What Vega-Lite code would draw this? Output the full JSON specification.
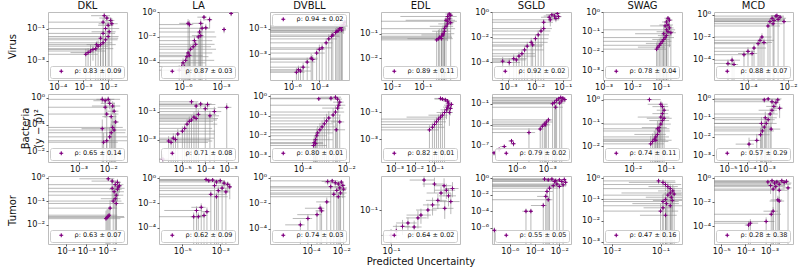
{
"$schema": "https://vega.github.io/schema/vega-lite/v6.json",
"background": "white",
"padding": {"left": 6, "top": 0, "right": 0, "bottom": 0},
"config": {
 "font": "DejaVu Sans",
 "view": {"stroke": "#bdbdbd", "strokeWidth": 1},
 "axis": {"domain": false, "grid": false, "tickSize": 2, "tickColor": "#333333", "tickWidth": 0.8, "labelFont": "DejaVu Sans", "labelFontSize": 8.2, "labelColor": "#111111", "labelPadding": 1.5, "labelFlush": false, "labelOverlap": false, "labelBound": false, "titleFont": "DejaVu Sans", "titleFontSize": 10, "titleFontWeight": "normal", "titleColor": "#111111",
  "labelExpr": "'10' + (round(log(datum.value) / LN10) < 0 ? '⁻' : '') + ['⁰','¹','²','³','⁴','⁵','⁶','⁷','⁸','⁹'][abs(round(log(datum.value) / LN10))]"},
 "title": {"font": "DejaVu Sans", "fontSize": 10, "fontWeight": "normal", "color": "#111111", "offset": 1},
 "rule": {"color": "#8a8a8a", "opacity": 0.6, "strokeWidth": 1},
 "point": {"shape": "M-1,0H1M0,-1V1M-0.3,0A0.3,0.3,0,1,0,0.3,0A0.3,0.3,0,1,0,-0.3,0", "filled": false, "size": 16, "strokeWidth": 1, "opacity": 1},
 "legend": {"labelFont": "DejaVu Sans", "labelFontSize": 6.5, "labelColor": "#111111", "padding": 2, "offset": 2, "strokeColor": "#cccccc", "fillColor": "rgba(255,255,255,0.85)", "cornerRadius": 2, "symbolSize": 16, "symbolStrokeWidth": 1, "symbolOffset": 6, "labelOffset": 10, "symbolType": "M-1,0H1M0,-1V1M-0.3,0A0.3,0.3,0,1,0,0.3,0A0.3,0.3,0,1,0,-0.3,0"}
},
"data": {"values": [
{"p":"DKL_V","x":1.3e-3,"y":2.5e-3,"a":2,"b":1.2},
{"p":"DKL_V","x":1.6e-3,"y":3.2e-3,"a":0.8,"b":0.9},
{"p":"DKL_V","x":2e-3,"y":4e-3,"a":3,"b":1.5},
{"p":"DKL_V","x":2.5e-3,"y":5e-3,"a":1.2,"b":0.8},
{"p":"DKL_V","x":3.2e-3,"y":5.6e-3,"a":4,"b":1.4},
{"p":"DKL_V","x":4e-3,"y":8e-3,"a":1.5,"b":1.2},
{"p":"DKL_V","x":5e-3,"y":1e-2,"a":3,"b":1.5},
{"p":"DKL_V","x":6.3e-3,"y":1.3e-2,"a":1.3,"b":1.6},
{"p":"DKL_V","x":7.9e-3,"y":2e-2,"a":2,"b":1.5},
{"p":"DKL_V","x":5e-3,"y":2.5e-2,"a":4,"b":1.2},
{"p":"DKL_V","x":1e-2,"y":3.2e-2,"a":1.6,"b":1.3},
{"p":"DKL_V","x":6.3e-3,"y":5e-2,"a":2,"b":1.2},
{"p":"DKL_V","x":1.1e-2,"y":6.3e-2,"a":0.8,"b":1.3},
{"p":"DKL_V","x":7.9e-3,"y":0.1,"a":2.5,"b":1.2},
{"p":"DKL_V","x":1e-2,"y":0.16,"a":0.6,"b":0.6},
{"p":"DKL_V","x":6.3e-3,"y":0.25,"a":1.5,"b":0.8},
{"p":"DKL_V","x":1.26e-2,"y":0.32,"a":0.4,"b":0.5},
{"p":"DKL_V","x":8.9e-3,"y":0.45,"a":0.5,"b":0.4},
{"p":"DKL_V","x":7e-3,"y":0.63,"a":0.7,"b":0.5},
{"p":"DKL_V","x":1.4e-2,"y":0.2,"a":0.7,"b":1.2},
{"p":"DKL_V","x":3.5e-3,"y":1e-2,"a":0.6,"b":0.6},
{"p":"LA_V","x":5e-7,"y":2e-5,"a":200,"b":1.5},
{"p":"LA_V","x":7.9e-7,"y":4e-5,"a":250,"b":1.2},
{"p":"LA_V","x":1e-6,"y":7.9e-5,"a":60,"b":1.3},
{"p":"LA_V","x":1.6e-6,"y":1.26e-4,"a":180,"b":1.2},
{"p":"LA_V","x":2e-6,"y":2.5e-4,"a":50,"b":1.2},
{"p":"LA_V","x":2.5e-6,"y":5e-4,"a":80,"b":1.2},
{"p":"LA_V","x":3.2e-6,"y":3.2e-4,"a":10,"b":1.3},
{"p":"LA_V","x":4e-6,"y":1e-3,"a":100,"b":1.2},
{"p":"LA_V","x":6.3e-6,"y":1.6e-3,"a":25,"b":1.3},
{"p":"LA_V","x":1e-5,"y":2.5e-3,"a":30,"b":1.2},
{"p":"LA_V","x":7.9e-6,"y":5e-3,"a":25,"b":1.2},
{"p":"LA_V","x":1.6e-5,"y":1e-2,"a":25,"b":1.2},
{"p":"LA_V","x":2e-5,"y":2.5e-2,"a":15,"b":1.2},
{"p":"LA_V","x":3.2e-5,"y":5e-2,"a":3,"b":1.2},
{"p":"LA_V","x":2.5e-6,"y":0.126,"a":0.8,"b":1.2},
{"p":"LA_V","x":3.2e-6,"y":0.1,"a":1,"b":1.2},
{"p":"LA_V","x":2.5e-5,"y":0.126,"a":0.8,"b":1.2},
{"p":"LA_V","x":4.5e-5,"y":0.4,"a":0.7,"b":0.5},
{"p":"LA_V","x":6.3e-5,"y":5.5e-2,"a":0.6,"b":1.1},
{"p":"LA_V","x":2.5e-5,"y":1.26e-2,"a":0.8,"b":1.2},
{"p":"LA_V","x":1.74e-3,"y":4e-2,"a":0.3,"b":0.5},
{"p":"LA_V","x":6.3e-3,"y":0.8,"a":0.3,"b":0.4},
{"p":"LA_V","x":1.26e-6,"y":4e-5,"a":0.8,"b":1.2},
{"p":"LA_V","x":1.26e-4,"y":0.25,"a":0.6,"b":0.8},
{"p":"DVBLL_V","x":2e-6,"y":4e-5,"a":3,"b":1.2},
{"p":"DVBLL_V","x":2.8e-6,"y":6.3e-5,"a":1.5,"b":1.1},
{"p":"DVBLL_V","x":4e-6,"y":5e-5,"a":5,"b":1.3},
{"p":"DVBLL_V","x":6.3e-6,"y":1e-4,"a":2,"b":1.2},
{"p":"DVBLL_V","x":1.26e-5,"y":2.5e-4,"a":3,"b":1.2},
{"p":"DVBLL_V","x":2.5e-5,"y":5e-4,"a":2,"b":1.3},
{"p":"DVBLL_V","x":3.2e-5,"y":4e-4,"a":1.2,"b":1.2},
{"p":"DVBLL_V","x":6.3e-5,"y":1.26e-3,"a":3,"b":1.2},
{"p":"DVBLL_V","x":1e-4,"y":2.5e-3,"a":1.5,"b":1.3},
{"p":"DVBLL_V","x":1.6e-4,"y":3.2e-3,"a":4,"b":1.2},
{"p":"DVBLL_V","x":3.2e-4,"y":7.9e-3,"a":2,"b":1.2},
{"p":"DVBLL_V","x":5e-4,"y":1.6e-2,"a":3,"b":1.3},
{"p":"DVBLL_V","x":1e-3,"y":3.2e-2,"a":2,"b":1.2},
{"p":"DVBLL_V","x":1.6e-3,"y":5e-2,"a":2.5,"b":1.2},
{"p":"DVBLL_V","x":2.5e-3,"y":7e-2,"a":1.5,"b":1.3},
{"p":"DVBLL_V","x":3.2e-3,"y":0.1,"a":2,"b":1.2},
{"p":"DVBLL_V","x":4e-3,"y":0.126,"a":1.2,"b":1.2},
{"p":"DVBLL_V","x":5e-3,"y":0.16,"a":1.5,"b":1.1},
{"p":"DVBLL_V","x":6.3e-3,"y":0.2,"a":0.8,"b":0.8},
{"p":"DVBLL_V","x":7.9e-3,"y":0.32,"a":0.4,"b":0.5},
{"p":"DVBLL_V","x":2e-3,"y":6.3e-2,"a":2,"b":1.2},
{"p":"DVBLL_V","x":4.5e-3,"y":7.9e-2,"a":1.1,"b":1.2},
{"p":"DVBLL_V","x":7.9e-4,"y":2.5e-2,"a":3,"b":1.2},
{"p":"EDL_V","x":0.28,"y":0.056,"a":1.2,"b":1.2},
{"p":"EDL_V","x":0.32,"y":0.063,"a":0.9,"b":1.3},
{"p":"EDL_V","x":0.35,"y":0.071,"a":1.5,"b":1.2},
{"p":"EDL_V","x":0.4,"y":0.079,"a":1.1,"b":1.2},
{"p":"EDL_V","x":0.45,"y":0.1,"a":1.3,"b":1.2},
{"p":"EDL_V","x":0.5,"y":0.126,"a":0.6,"b":1.2},
{"p":"EDL_V","x":0.5,"y":0.16,"a":1.2,"b":1.1},
{"p":"EDL_V","x":0.56,"y":0.2,"a":0.7,"b":1.1},
{"p":"EDL_V","x":0.63,"y":0.25,"a":0.5,"b":0.8},
{"p":"EDL_V","x":0.63,"y":0.32,"a":1,"b":0.6},
{"p":"EDL_V","x":0.71,"y":0.4,"a":0.3,"b":0.4},
{"p":"EDL_V","x":0.63,"y":0.5,"a":0.97,"b":0.3},
{"p":"EDL_V","x":0.79,"y":0.56,"a":0.2,"b":0.3},
{"p":"EDL_V","x":0.71,"y":0.63,"a":0.25,"b":0.2},
{"p":"EDL_V","x":0.56,"y":0.35,"a":0.95,"b":0.5},
{"p":"EDL_V","x":0.79,"y":0.28,"a":0.3,"b":1.1},
{"p":"EDL_V","x":0.4,"y":0.063,"a":1.3,"b":1.4},
{"p":"EDL_V","x":0.45,"y":0.089,"a":0.8,"b":1.2},
{"p":"SGLD_V","x":6.3e-4,"y":1.26e-4,"a":0.8,"b":1.2},
{"p":"SGLD_V","x":1.1e-3,"y":1e-4,"a":1.5,"b":1.1},
{"p":"SGLD_V","x":1.6e-3,"y":2e-4,"a":2,"b":1.2},
{"p":"SGLD_V","x":2.5e-3,"y":3.2e-4,"a":3,"b":1.2},
{"p":"SGLD_V","x":3.2e-3,"y":5e-4,"a":2,"b":1.3},
{"p":"SGLD_V","x":4e-3,"y":1e-3,"a":4,"b":1.2},
{"p":"SGLD_V","x":5e-3,"y":2e-3,"a":2.5,"b":1.2},
{"p":"SGLD_V","x":7e-3,"y":4e-3,"a":3,"b":1.3},
{"p":"SGLD_V","x":1e-2,"y":7.9e-3,"a":2,"b":1.2},
{"p":"SGLD_V","x":1.26e-2,"y":1.6e-2,"a":1.5,"b":1.2},
{"p":"SGLD_V","x":1.6e-2,"y":3.2e-2,"a":1.2,"b":1.3},
{"p":"SGLD_V","x":2e-2,"y":5e-2,"a":1,"b":1.1},
{"p":"SGLD_V","x":2e-2,"y":0.16,"a":1.2,"b":0.8},
{"p":"SGLD_V","x":3.2e-2,"y":0.4,"a":0.5,"b":0.6},
{"p":"SGLD_V","x":4e-2,"y":0.63,"a":0.4,"b":0.4},
{"p":"SGLD_V","x":5e-2,"y":0.5,"a":0.6,"b":0.5},
{"p":"SGLD_V","x":6.3e-2,"y":0.8,"a":0.3,"b":0.3},
{"p":"SGLD_V","x":5.6e-2,"y":0.32,"a":0.4,"b":0.5},
{"p":"SGLD_V","x":7e-2,"y":0.45,"a":0.3,"b":0.4},
{"p":"SGLD_V","x":3.5e-2,"y":0.25,"a":1.1,"b":0.7},
{"p":"SGLD_V","x":2e-3,"y":1.6e-4,"a":1.2,"b":1.2},
{"p":"SGLD_V","x":7.9e-3,"y":2.5e-3,"a":1.5,"b":1.2},
{"p":"SWAG_V","x":0.071,"y":0.0126,"a":1.2,"b":1.2},
{"p":"SWAG_V","x":0.079,"y":0.016,"a":0.8,"b":1.3},
{"p":"SWAG_V","x":0.089,"y":0.02,"a":1.5,"b":1.2},
{"p":"SWAG_V","x":0.1,"y":0.025,"a":0.7,"b":1.2},
{"p":"SWAG_V","x":0.112,"y":0.032,"a":1.1,"b":1.3},
{"p":"SWAG_V","x":0.126,"y":0.04,"a":0.6,"b":1.2},
{"p":"SWAG_V","x":0.141,"y":0.05,"a":1.05,"b":1.2},
{"p":"SWAG_V","x":0.158,"y":0.063,"a":0.5,"b":1.2},
{"p":"SWAG_V","x":0.126,"y":0.079,"a":0.9,"b":1.1},
{"p":"SWAG_V","x":0.178,"y":0.1,"a":0.6,"b":1.2},
{"p":"SWAG_V","x":0.158,"y":0.126,"a":1,"b":1.1},
{"p":"SWAG_V","x":0.2,"y":0.158,"a":0.4,"b":0.9},
{"p":"SWAG_V","x":0.178,"y":0.224,"a":0.5,"b":0.7},
{"p":"SWAG_V","x":0.158,"y":0.32,"a":0.3,"b":0.5},
{"p":"SWAG_V","x":0.2,"y":0.4,"a":0.3,"b":0.4},
{"p":"SWAG_V","x":0.178,"y":0.5,"a":0.25,"b":0.3},
{"p":"SWAG_V","x":0.141,"y":0.2,"a":0.7,"b":0.8},
{"p":"SWAG_V","x":0.224,"y":0.089,"a":0.5,"b":1.2},
{"p":"MCD_V","x":1e-5,"y":4e-5,"a":0.8,"b":1.2},
{"p":"MCD_V","x":1.6e-5,"y":7.9e-5,"a":1.5,"b":1.2},
{"p":"MCD_V","x":2e-5,"y":3.2e-5,"a":0.6,"b":1.1},
{"p":"MCD_V","x":6.3e-5,"y":2.5e-4,"a":2,"b":1.2},
{"p":"MCD_V","x":1e-4,"y":5e-4,"a":1.2,"b":1.3},
{"p":"MCD_V","x":1.6e-4,"y":3.2e-4,"a":0.8,"b":1.2},
{"p":"MCD_V","x":2e-4,"y":1e-3,"a":3,"b":1.2},
{"p":"MCD_V","x":3.2e-4,"y":2.5e-3,"a":2,"b":1.3},
{"p":"MCD_V","x":4e-4,"y":5e-3,"a":4,"b":1.2},
{"p":"MCD_V","x":5e-4,"y":1e-2,"a":2,"b":1.2},
{"p":"MCD_V","x":6.3e-4,"y":3.2e-3,"a":1.5,"b":1.3},
{"p":"MCD_V","x":1e-3,"y":0.1,"a":3,"b":1.2},
{"p":"MCD_V","x":1.26e-3,"y":0.25,"a":2,"b":1.1},
{"p":"MCD_V","x":1.6e-3,"y":0.5,"a":4,"b":0.8},
{"p":"MCD_V","x":2e-3,"y":0.32,"a":2.5,"b":1.1},
{"p":"MCD_V","x":2.5e-3,"y":0.79,"a":1.5,"b":0.4},
{"p":"MCD_V","x":3.2e-3,"y":0.4,"a":1.2,"b":1.2},
{"p":"MCD_V","x":4e-3,"y":0.63,"a":0.6,"b":0.6},
{"p":"MCD_V","x":6.3e-3,"y":0.25,"a":1.2,"b":1.1},
{"p":"MCD_V","x":1.8e-3,"y":0.16,"a":2,"b":1.2},
{"p":"MCD_V","x":2.8e-3,"y":0.89,"a":0.5,"b":0.3},
{"p":"DKL_B","x":6.3e-3,"y":0.89,"a":3,"b":0.3},
{"p":"DKL_B","x":0.01,"y":0.89,"a":0.6,"b":0.3},
{"p":"DKL_B","x":0.0112,"y":0.63,"a":0.5,"b":0.4},
{"p":"DKL_B","x":0.0141,"y":0.5,"a":0.8,"b":0.5},
{"p":"DKL_B","x":7.9e-3,"y":0.45,"a":1.2,"b":0.6},
{"p":"DKL_B","x":0.0158,"y":0.32,"a":0.4,"b":1.1},
{"p":"DKL_B","x":0.0126,"y":0.2,"a":0.5,"b":1.2},
{"p":"DKL_B","x":8.9e-3,"y":0.25,"a":1.5,"b":1.1},
{"p":"DKL_B","x":0.0178,"y":0.126,"a":0.3,"b":1.2},
{"p":"DKL_B","x":0.0141,"y":0.079,"a":1.2,"b":1.3},
{"p":"DKL_B","x":6.3e-3,"y":0.071,"a":0.8,"b":1.2},
{"p":"DKL_B","x":0.0126,"y":0.05,"a":2,"b":1.2},
{"p":"DKL_B","x":0.0112,"y":0.035,"a":3,"b":1.3},
{"p":"DKL_B","x":8.9e-3,"y":0.025,"a":4,"b":1.1},
{"p":"DKL_B","x":7e-3,"y":0.022,"a":2,"b":1.2},
{"p":"DKL_B","x":0.0158,"y":0.063,"a":1.5,"b":1.2},
{"p":"DKL_B","x":7.9e-3,"y":0.79,"a":0.6,"b":0.3},
{"p":"LA_B","x":1.4e-6,"y":4e-5,"a":0.8,"b":1.2},
{"p":"LA_B","x":2.5e-6,"y":7.9e-4,"a":80,"b":1.2},
{"p":"LA_B","x":3.2e-6,"y":6.3e-4,"a":40,"b":1.3},
{"p":"LA_B","x":4e-6,"y":1.26e-3,"a":60,"b":1.2},
{"p":"LA_B","x":5e-6,"y":1e-3,"a":30,"b":1.2},
{"p":"LA_B","x":6.3e-6,"y":2.5e-3,"a":40,"b":1.3},
{"p":"LA_B","x":1e-5,"y":4e-3,"a":25,"b":1.2},
{"p":"LA_B","x":1.26e-5,"y":6.3e-3,"a":15,"b":1.2},
{"p":"LA_B","x":1.6e-5,"y":0.0126,"a":20,"b":1.3},
{"p":"LA_B","x":2e-5,"y":0.02,"a":10,"b":1.2},
{"p":"LA_B","x":2.5e-5,"y":0.025,"a":12,"b":1.2},
{"p":"LA_B","x":3.2e-5,"y":0.04,"a":6,"b":1.3},
{"p":"LA_B","x":4e-5,"y":0.032,"a":8,"b":1.2},
{"p":"LA_B","x":5e-5,"y":0.063,"a":5,"b":1.2},
{"p":"LA_B","x":6.3e-5,"y":0.35,"a":2,"b":0.5},
{"p":"LA_B","x":4e-5,"y":0.25,"a":3,"b":0.8},
{"p":"LA_B","x":1e-4,"y":0.16,"a":2,"b":1.1},
{"p":"LA_B","x":1.26e-4,"y":0.32,"a":1.2,"b":0.6},
{"p":"LA_B","x":1.6e-4,"y":0.05,"a":1.5,"b":1.3},
{"p":"LA_B","x":2.5e-4,"y":0.1,"a":1,"b":1.2},
{"p":"LA_B","x":8.7e-4,"y":0.2,"a":0.6,"b":1},
{"p":"LA_B","x":2.5e-5,"y":0.5,"a":1,"b":0.4},
{"p":"DVBLL_B","x":3.2e-4,"y":3.2e-3,"a":3,"b":1.2},
{"p":"DVBLL_B","x":3.5e-4,"y":4.5e-3,"a":1.5,"b":1.1},
{"p":"DVBLL_B","x":4e-4,"y":6.3e-3,"a":5,"b":1.2},
{"p":"DVBLL_B","x":4.5e-4,"y":0.01,"a":2,"b":1.3},
{"p":"DVBLL_B","x":5e-4,"y":0.014,"a":4,"b":1.2},
{"p":"DVBLL_B","x":6.3e-4,"y":0.02,"a":2,"b":1.2},
{"p":"DVBLL_B","x":7.9e-4,"y":0.028,"a":3,"b":1.1},
{"p":"DVBLL_B","x":1e-3,"y":0.04,"a":1.5,"b":1.2},
{"p":"DVBLL_B","x":1.26e-3,"y":0.056,"a":2.5,"b":1.3},
{"p":"DVBLL_B","x":1.6e-3,"y":0.079,"a":2,"b":1.2},
{"p":"DVBLL_B","x":2.5e-3,"y":0.112,"a":1.2,"b":1.2},
{"p":"DVBLL_B","x":3.2e-3,"y":0.158,"a":1.5,"b":1.1},
{"p":"DVBLL_B","x":4e-3,"y":0.25,"a":0.8,"b":1.1},
{"p":"DVBLL_B","x":4.5e-3,"y":0.35,"a":1,"b":0.6},
{"p":"DVBLL_B","x":5e-3,"y":0.5,"a":0.5,"b":0.4},
{"p":"DVBLL_B","x":4e-3,"y":0.71,"a":0.6,"b":0.3},
{"p":"DVBLL_B","x":3.2e-3,"y":0.89,"a":0.8,"b":0.2},
{"p":"DVBLL_B","x":2e-3,"y":0.79,"a":1.2,"b":0.3},
{"p":"DVBLL_B","x":5.6e-4,"y":0.74,"a":3,"b":0.2},
{"p":"DVBLL_B","x":5e-3,"y":0.05,"a":0.6,"b":1.2},
{"p":"DVBLL_B","x":3.5e-3,"y":0.02,"a":1.5,"b":1.2},
{"p":"DVBLL_B","x":4e-4,"y":4e-3,"a":1.2,"b":1.1},
{"p":"EDL_B","x":0.056,"y":5e-3,"a":2,"b":1.2},
{"p":"EDL_B","x":0.079,"y":7.9e-3,"a":3,"b":1.2},
{"p":"EDL_B","x":0.1,"y":0.0126,"a":1.5,"b":1.3},
{"p":"EDL_B","x":0.126,"y":0.02,"a":2,"b":1.2},
{"p":"EDL_B","x":0.158,"y":0.032,"a":1.2,"b":1.2},
{"p":"EDL_B","x":0.2,"y":0.045,"a":0.98,"b":1.1},
{"p":"EDL_B","x":0.25,"y":0.063,"a":0.8,"b":1.2},
{"p":"EDL_B","x":0.32,"y":0.1,"a":0.6,"b":1.1},
{"p":"EDL_B","x":0.4,"y":0.158,"a":0.5,"b":0.8},
{"p":"EDL_B","x":0.45,"y":0.25,"a":0.4,"b":0.6},
{"p":"EDL_B","x":0.5,"y":0.35,"a":0.4,"b":0.5},
{"p":"EDL_B","x":0.5,"y":0.5,"a":0.3,"b":0.4},
{"p":"EDL_B","x":0.45,"y":0.71,"a":0.4,"b":0.3},
{"p":"EDL_B","x":0.35,"y":0.89,"a":0.5,"b":0.3},
{"p":"EDL_B","x":0.25,"y":1,"a":0.6,"b":0.2},
{"p":"EDL_B","x":0.2,"y":1.12,"a":0.5,"b":0.2},
{"p":"EDL_B","x":0.63,"y":0.2,"a":0.3,"b":0.7},
{"p":"EDL_B","x":0.56,"y":0.1,"a":0.5,"b":0.9},
{"p":"EDL_B","x":0.71,"y":0.4,"a":0.2,"b":0.5},
{"p":"SGLD_B","x":6.3e-9,"y":1e-8,"a":0.5,"b":0.6},
{"p":"SGLD_B","x":2e-8,"y":3.2e-8,"a":0.5,"b":0.6},
{"p":"SGLD_B","x":6.3e-8,"y":7.9e-8,"a":0.6,"b":0.5},
{"p":"SGLD_B","x":3.2e-7,"y":5e-7,"a":0.5,"b":0.6},
{"p":"SGLD_B","x":5e-7,"y":2e-7,"a":0.5,"b":0.6},
{"p":"SGLD_B","x":1.6e-5,"y":7.9e-6,"a":3,"b":3},
{"p":"SGLD_B","x":2e-4,"y":2.5e-5,"a":1.2,"b":1.2},
{"p":"SGLD_B","x":3.2e-4,"y":6.3e-5,"a":2,"b":1.2},
{"p":"SGLD_B","x":5e-4,"y":1.26e-4,"a":1.5,"b":1.3},
{"p":"SGLD_B","x":7.9e-4,"y":2.5e-4,"a":3,"b":1.2},
{"p":"SGLD_B","x":1.26e-3,"y":5e-4,"a":1.5,"b":1.2},
{"p":"SGLD_B","x":6.3e-4,"y":1e-4,"a":2,"b":1.1},
{"p":"SGLD_B","x":3.2e-3,"y":0.1,"a":3,"b":1.2},
{"p":"SGLD_B","x":5e-3,"y":0.158,"a":2,"b":1.2},
{"p":"SGLD_B","x":7.9e-3,"y":0.32,"a":3,"b":1.1},
{"p":"SGLD_B","x":0.0126,"y":0.5,"a":1.5,"b":0.6},
{"p":"SGLD_B","x":0.02,"y":0.79,"a":1,"b":0.4},
{"p":"SGLD_B","x":0.032,"y":0.63,"a":0.6,"b":0.5},
{"p":"SGLD_B","x":0.05,"y":0.4,"a":0.4,"b":0.6},
{"p":"SGLD_B","x":0.0158,"y":0.126,"a":2,"b":1.2},
{"p":"SGLD_B","x":6.3e-3,"y":0.032,"a":4,"b":1.2},
{"p":"SGLD_B","x":0.025,"y":0.25,"a":1.2,"b":1.1},
{"p":"SWAG_B","x":0.032,"y":1,"a":1.2,"b":0.2},
{"p":"SWAG_B","x":0.035,"y":0.0126,"a":1.5,"b":1.2},
{"p":"SWAG_B","x":0.04,"y":0.016,"a":2,"b":1.2},
{"p":"SWAG_B","x":0.045,"y":0.02,"a":1.2,"b":1.3},
{"p":"SWAG_B","x":0.05,"y":0.025,"a":1.5,"b":1.2},
{"p":"SWAG_B","x":0.056,"y":0.032,"a":0.8,"b":1.2},
{"p":"SWAG_B","x":0.063,"y":0.045,"a":1.1,"b":1.1},
{"p":"SWAG_B","x":0.063,"y":0.063,"a":0.7,"b":1.2},
{"p":"SWAG_B","x":0.071,"y":0.089,"a":1,"b":1.1},
{"p":"SWAG_B","x":0.079,"y":0.126,"a":0.6,"b":1.2},
{"p":"SWAG_B","x":0.071,"y":0.178,"a":0.8,"b":0.9},
{"p":"SWAG_B","x":0.079,"y":0.25,"a":0.5,"b":0.7},
{"p":"SWAG_B","x":0.089,"y":0.35,"a":0.4,"b":0.6},
{"p":"SWAG_B","x":0.079,"y":0.5,"a":0.5,"b":0.5},
{"p":"SWAG_B","x":0.071,"y":0.63,"a":0.6,"b":0.4},
{"p":"SWAG_B","x":0.05,"y":0.018,"a":2,"b":1.2},
{"p":"SWAG_B","x":0.056,"y":0.056,"a":1.3,"b":1.2},
{"p":"SWAG_B","x":0.089,"y":0.158,"a":0.7,"b":1.1},
{"p":"MCD_B","x":1.26e-4,"y":4e-3,"a":0.8,"b":1.2},
{"p":"MCD_B","x":3.2e-4,"y":6.3e-3,"a":0.6,"b":1.2},
{"p":"MCD_B","x":5e-4,"y":0.0126,"a":2,"b":1.3},
{"p":"MCD_B","x":6.3e-4,"y":0.02,"a":3,"b":1.2},
{"p":"MCD_B","x":7.9e-4,"y":0.032,"a":1.5,"b":1.2},
{"p":"MCD_B","x":1e-3,"y":0.05,"a":2.5,"b":1.1},
{"p":"MCD_B","x":1.26e-3,"y":0.079,"a":1.2,"b":1.2},
{"p":"MCD_B","x":8.9e-4,"y":0.1,"a":3,"b":1.1},
{"p":"MCD_B","x":1.6e-3,"y":0.158,"a":1.5,"b":1},
{"p":"MCD_B","x":2e-3,"y":0.25,"a":0.8,"b":0.8},
{"p":"MCD_B","x":2.5e-3,"y":0.4,"a":0.6,"b":0.6},
{"p":"MCD_B","x":3.2e-3,"y":0.63,"a":0.5,"b":0.5},
{"p":"MCD_B","x":4e-3,"y":0.89,"a":0.4,"b":0.3},
{"p":"MCD_B","x":1.26e-3,"y":1,"a":4,"b":0.2},
{"p":"MCD_B","x":7.9e-4,"y":0.89,"a":2,"b":0.3},
{"p":"MCD_B","x":2e-3,"y":0.71,"a":1,"b":0.4},
{"p":"MCD_B","x":5e-3,"y":0.32,"a":0.5,"b":0.7},
{"p":"MCD_B","x":5.6e-4,"y":0.05,"a":1.5,"b":1.2},
{"p":"MCD_B","x":1.8e-3,"y":0.025,"a":2,"b":1.2},
{"p":"DKL_T","x":0.01,"y":0.02,"a":6,"b":1.2},
{"p":"DKL_T","x":0.0112,"y":0.022,"a":5,"b":1.1},
{"p":"DKL_T","x":8.9e-3,"y":0.0178,"a":4,"b":1.2},
{"p":"DKL_T","x":0.0126,"y":0.025,"a":1.5,"b":1.3},
{"p":"DKL_T","x":0.0141,"y":0.05,"a":1.2,"b":1.2},
{"p":"DKL_T","x":0.02,"y":0.1,"a":1.5,"b":1.1},
{"p":"DKL_T","x":0.025,"y":0.126,"a":0.8,"b":1.2},
{"p":"DKL_T","x":0.028,"y":0.178,"a":1.2,"b":1},
{"p":"DKL_T","x":0.022,"y":0.25,"a":2,"b":0.8},
{"p":"DKL_T","x":0.032,"y":0.32,"a":0.6,"b":0.7},
{"p":"DKL_T","x":0.035,"y":0.4,"a":0.4,"b":0.6},
{"p":"DKL_T","x":0.025,"y":0.5,"a":1.5,"b":0.5},
{"p":"DKL_T","x":0.032,"y":0.63,"a":0.5,"b":0.4},
{"p":"DKL_T","x":0.0178,"y":0.71,"a":0.9,"b":0.3},
{"p":"DKL_T","x":0.0115,"y":0.89,"a":0.96,"b":0.2},
{"p":"DKL_T","x":0.04,"y":0.45,"a":0.3,"b":0.5},
{"p":"DKL_T","x":0.0178,"y":0.35,"a":3,"b":0.7},
{"p":"DKL_T","x":0.028,"y":0.079,"a":1.3,"b":1.2},
{"p":"LA_T","x":1.8e-4,"y":0.79,"a":1.5,"b":0.3},
{"p":"LA_T","x":2.5e-4,"y":0.63,"a":3,"b":0.3},
{"p":"LA_T","x":4e-4,"y":0.71,"a":1.2,"b":0.3},
{"p":"LA_T","x":6.3e-4,"y":0.5,"a":2,"b":0.5},
{"p":"LA_T","x":1e-3,"y":0.63,"a":0.8,"b":0.4},
{"p":"LA_T","x":1.6e-3,"y":0.4,"a":0.6,"b":0.6},
{"p":"LA_T","x":2.5e-3,"y":0.32,"a":0.4,"b":0.7},
{"p":"LA_T","x":3.2e-3,"y":0.2,"a":0.3,"b":0.9},
{"p":"LA_T","x":1.26e-3,"y":0.158,"a":1.5,"b":1.1},
{"p":"LA_T","x":5e-4,"y":0.25,"a":4,"b":1},
{"p":"LA_T","x":7.9e-4,"y":0.1,"a":2.5,"b":1.2},
{"p":"LA_T","x":3.2e-4,"y":0.05,"a":6,"b":1.2},
{"p":"LA_T","x":6.3e-4,"y":0.032,"a":3,"b":1.2},
{"p":"LA_T","x":2e-3,"y":0.079,"a":0.6,"b":1.1},
{"p":"LA_T","x":5.6e-5,"y":2.5e-3,"a":0.98,"b":1.2},
{"p":"LA_T","x":1e-4,"y":4.5e-3,"a":0.7,"b":1.1},
{"p":"LA_T","x":1.4e-4,"y":1e-3,"a":0.5,"b":1.3},
{"p":"LA_T","x":4e-5,"y":7.9e-4,"a":3,"b":1.2},
{"p":"LA_T","x":7e-5,"y":7.9e-4,"a":0.6,"b":1.2},
{"p":"LA_T","x":2e-4,"y":2e-3,"a":0.5,"b":1.2},
{"p":"DVBLL_T","x":1.26e-3,"y":0.5,"a":0.6,"b":0.5},
{"p":"DVBLL_T","x":2.5e-3,"y":0.56,"a":1.5,"b":0.4},
{"p":"DVBLL_T","x":4e-3,"y":0.4,"a":0.8,"b":0.6},
{"p":"DVBLL_T","x":6.3e-3,"y":0.32,"a":0.5,"b":0.7},
{"p":"DVBLL_T","x":0.01,"y":0.45,"a":0.4,"b":0.5},
{"p":"DVBLL_T","x":0.0126,"y":0.25,"a":0.5,"b":0.9},
{"p":"DVBLL_T","x":7.9e-3,"y":0.158,"a":2,"b":1.1},
{"p":"DVBLL_T","x":5e-3,"y":0.1,"a":3,"b":1.2},
{"p":"DVBLL_T","x":8.9e-3,"y":0.063,"a":1.5,"b":1.2},
{"p":"DVBLL_T","x":3.2e-3,"y":0.05,"a":4,"b":1.2},
{"p":"DVBLL_T","x":6.3e-3,"y":0.032,"a":2,"b":1.3},
{"p":"DVBLL_T","x":0.0141,"y":0.126,"a":0.6,"b":1.1},
{"p":"DVBLL_T","x":2e-3,"y":0.2,"a":5,"b":1.1},
{"p":"DVBLL_T","x":1.1e-3,"y":0.0126,"a":0.8,"b":1.2},
{"p":"DVBLL_T","x":4e-4,"y":4e-3,"a":0.9,"b":1.2},
{"p":"DVBLL_T","x":2.5e-4,"y":1.26e-3,"a":0.95,"b":1.2},
{"p":"DVBLL_T","x":6.3e-5,"y":6.3e-4,"a":0.9,"b":1.1},
{"p":"DVBLL_T","x":2e-5,"y":2e-4,"a":0.9,"b":1.2},
{"p":"DVBLL_T","x":5e-4,"y":2.5e-3,"a":0.6,"b":1.2},
{"p":"EDL_T","x":0.117,"y":0.0427,"a":0.3,"b":0.3},
{"p":"EDL_T","x":0.141,"y":0.0513,"a":0.25,"b":0.3},
{"p":"EDL_T","x":0.166,"y":0.0589,"a":0.3,"b":0.25},
{"p":"EDL_T","x":0.2,"y":0.05,"a":0.25,"b":0.3},
{"p":"EDL_T","x":0.224,"y":0.0724,"a":0.3,"b":0.35},
{"p":"EDL_T","x":0.245,"y":0.0813,"a":0.35,"b":0.3},
{"p":"EDL_T","x":0.302,"y":0.1,"a":0.3,"b":0.3},
{"p":"EDL_T","x":0.347,"y":0.123,"a":0.25,"b":0.35},
{"p":"EDL_T","x":0.407,"y":0.148,"a":0.3,"b":0.3},
{"p":"EDL_T","x":0.269,"y":0.339,"a":0.35,"b":0.25},
{"p":"EDL_T","x":0.367,"y":0.288,"a":0.3,"b":0.3},
{"p":"EDL_T","x":0.49,"y":0.269,"a":0.25,"b":0.35},
{"p":"EDL_T","x":0.525,"y":0.224,"a":0.3,"b":0.3},
{"p":"EDL_T","x":0.56,"y":0.178,"a":0.25,"b":0.35},
{"p":"EDL_T","x":0.6,"y":0.141,"a":0.3,"b":0.4},
{"p":"EDL_T","x":0.5,"y":0.107,"a":0.3,"b":0.35},
{"p":"EDL_T","x":0.447,"y":0.2,"a":0.35,"b":0.3},
{"p":"EDL_T","x":0.63,"y":0.24,"a":0.2,"b":0.3},
{"p":"EDL_T","x":0.1,"y":0.0355,"a":0.3,"b":0.3},
{"p":"SGLD_T","x":6.3e-4,"y":0.79,"a":3,"b":0.3},
{"p":"SGLD_T","x":1.26e-3,"y":0.63,"a":2,"b":0.4},
{"p":"SGLD_T","x":2.5e-3,"y":0.79,"a":1.5,"b":0.3},
{"p":"SGLD_T","x":5e-3,"y":0.5,"a":1.2,"b":0.5},
{"p":"SGLD_T","x":0.01,"y":0.63,"a":0.8,"b":0.4},
{"p":"SGLD_T","x":0.0158,"y":0.4,"a":0.6,"b":0.6},
{"p":"SGLD_T","x":0.025,"y":0.71,"a":0.4,"b":0.3},
{"p":"SGLD_T","x":0.032,"y":0.32,"a":0.3,"b":0.7},
{"p":"SGLD_T","x":6.3e-3,"y":0.2,"a":2,"b":1.1},
{"p":"SGLD_T","x":3.2e-3,"y":0.126,"a":3,"b":1.2},
{"p":"SGLD_T","x":1.6e-3,"y":0.063,"a":4,"b":1.2},
{"p":"SGLD_T","x":0.01,"y":0.1,"a":1.5,"b":1.2},
{"p":"SGLD_T","x":0.02,"y":0.158,"a":1,"b":1.1},
{"p":"SGLD_T","x":1e-3,"y":0.025,"a":2,"b":1.2},
{"p":"SGLD_T","x":4e-3,"y":0.4,"a":2.5,"b":0.6},
{"p":"SGLD_T","x":5e-4,"y":5e-4,"a":0.9,"b":1.2},
{"p":"SGLD_T","x":1.26e-3,"y":2.5e-3,"a":1.2,"b":1.2},
{"p":"SGLD_T","x":7.9e-4,"y":6.3e-3,"a":0.8,"b":1.2},
{"p":"SGLD_T","x":2e-5,"y":1e-4,"a":0.5,"b":1.2},
{"p":"SGLD_T","x":5e-5,"y":1e-4,"a":0.4,"b":1.1},
{"p":"SGLD_T","x":5.6e-8,"y":5e-7,"a":0.6,"b":1.2},
{"p":"SWAG_T","x":0.091,"y":0.74,"a":1.2,"b":0.3},
{"p":"SWAG_T","x":0.112,"y":0.63,"a":0.8,"b":0.4},
{"p":"SWAG_T","x":0.126,"y":0.5,"a":1.1,"b":0.5},
{"p":"SWAG_T","x":0.141,"y":0.4,"a":0.6,"b":0.6},
{"p":"SWAG_T","x":0.158,"y":0.32,"a":1.05,"b":0.7},
{"p":"SWAG_T","x":0.178,"y":0.25,"a":0.5,"b":0.9},
{"p":"SWAG_T","x":0.158,"y":0.2,"a":0.9,"b":1.1},
{"p":"SWAG_T","x":0.141,"y":0.158,"a":1.3,"b":1.2},
{"p":"SWAG_T","x":0.166,"y":0.126,"a":0.7,"b":1.1},
{"p":"SWAG_T","x":0.126,"y":0.1,"a":1.5,"b":1.2},
{"p":"SWAG_T","x":0.112,"y":0.079,"a":1.1,"b":1.2},
{"p":"SWAG_T","x":0.132,"y":0.063,"a":0.8,"b":1.1},
{"p":"SWAG_T","x":0.158,"y":0.05,"a":1.2,"b":1.2},
{"p":"SWAG_T","x":0.112,"y":0.04,"a":0.6,"b":1.2},
{"p":"SWAG_T","x":0.1,"y":0.028,"a":1.3,"b":1.2},
{"p":"SWAG_T","x":0.126,"y":0.0178,"a":0.7,"b":1.2},
{"p":"SWAG_T","x":0.19,"y":0.178,"a":0.4,"b":1},
{"p":"SWAG_T","x":0.174,"y":0.089,"a":0.6,"b":1.2},
{"p":"MCD_T","x":8.5e-4,"y":0.5,"a":3,"b":0.5},
{"p":"MCD_T","x":1.26e-3,"y":0.63,"a":2,"b":0.4},
{"p":"MCD_T","x":1.6e-3,"y":0.4,"a":4,"b":0.6},
{"p":"MCD_T","x":2e-3,"y":0.5,"a":1.5,"b":0.5},
{"p":"MCD_T","x":2.5e-3,"y":0.32,"a":2,"b":0.7},
{"p":"MCD_T","x":3.2e-3,"y":0.63,"a":0.6,"b":0.4},
{"p":"MCD_T","x":4e-3,"y":0.45,"a":0.5,"b":0.5},
{"p":"MCD_T","x":5e-3,"y":0.56,"a":0.3,"b":0.4},
{"p":"MCD_T","x":1.1e-3,"y":0.25,"a":3,"b":0.8},
{"p":"MCD_T","x":1.8e-3,"y":0.2,"a":1.5,"b":1},
{"p":"MCD_T","x":1.4e-3,"y":0.126,"a":2,"b":1.1},
{"p":"MCD_T","x":2.5e-3,"y":0.1,"a":1.2,"b":1.2},
{"p":"MCD_T","x":5.8e-3,"y":0.158,"a":0.4,"b":1.1},
{"p":"MCD_T","x":2.2e-3,"y":0.0158,"a":0.5,"b":1.2},
{"p":"MCD_T","x":2.5e-3,"y":0.0126,"a":0.6,"b":1.2},
{"p":"MCD_T","x":1.4e-3,"y":1.8e-3,"a":0.6,"b":1.2},
{"p":"MCD_T","x":1.17e-3,"y":1e-3,"a":1.5,"b":1.2},
{"p":"MCD_T","x":7.2e-4,"y":2.5e-4,"a":1.2,"b":1.2},
{"p":"MCD_T","x":1.6e-4,"y":1.8e-4,"a":1.1,"b":1.2},
{"p":"MCD_T","x":1.35e-4,"y":1.26e-4,"a":0.3,"b":1.2}
]},
"transform": [
 {"calculate": "max(datum.x * (1 - datum.a), 1e-15)", "as": "xl"},
 {"calculate": "datum.x * (1 + datum.a)", "as": "xh"},
 {"calculate": "max(datum.y * (1 - datum.b), 1e-15)", "as": "yl"},
 {"calculate": "datum.y * (1 + datum.b)", "as": "yh"}
],
"spacing": -2,
"resolve": {"scale": {"color": "independent"}, "legend": {"color": "independent"}},
"vconcat": [
{"spacing": 32, "bounds": "flush", "align": "none", "resolve": {"scale": {"color": "independent"}, "legend": {"color": "independent"}}, "hconcat": [
 {"width": 79, "height": 68, "title": {"text": "DKL", "offset": 1}, "transform": [{"filter": "datum.p == 'DKL_V'"}],
  "encoding": {"x": {"field": "x", "type": "quantitative", "scale": {"type": "log", "domain": [4.1e-5, 0.056], "nice": false}, "axis": {"values": [1e-4, 1e-3, 0.01], "title": null}},
   "y": {"field": "y", "type": "quantitative", "scale": {"type": "log", "domain": [6.3e-5, 1.07], "nice": false}, "axis": {"values": [0.1, 0.001], "title": "Virus", "titleX": -33, "titleY": 34, "titleAngle": -90, "titleAlign": "center", "titleBaseline": "alphabetic"}}},
  "layer": [{"mark": {"type": "rule", "clip": true}, "encoding": {"x2": {"field": "xl"}}}, {"mark": {"type": "rule", "clip": true}, "encoding": {"x2": {"field": "xh"}}}, {"mark": {"type": "rule", "clip": true}, "encoding": {"y2": {"field": "yl"}}}, {"mark": {"type": "rule", "clip": true}, "encoding": {"y2": {"field": "yh"}}},
   {"mark": {"type": "point", "clip": true}, "encoding": {"color": {"datum": "ρ: 0.83 ± 0.09", "scale": {"range": ["#800080"]}, "legend": {"orient": "bottom-left", "title": null}}}}]},
 {"width": 79, "height": 68, "title": {"text": "LA", "offset": -4}, "transform": [{"filter": "datum.p == 'LA_V'"}],
  "encoding": {"x": {"field": "x", "type": "quantitative", "scale": {"type": "log", "domain": [1.26e-8, 0.022], "nice": false}, "axis": {"values": [1e-6, 1e-3], "title": null}},
   "y": {"field": "y", "type": "quantitative", "scale": {"type": "log", "domain": [3.2e-6, 1.05], "nice": false}, "axis": {"values": [1, 0.01, 1e-4], "title": null}}},
  "layer": [{"mark": {"type": "rule", "clip": true}, "encoding": {"x2": {"field": "xl"}}}, {"mark": {"type": "rule", "clip": true}, "encoding": {"x2": {"field": "xh"}}}, {"mark": {"type": "rule", "clip": true}, "encoding": {"y2": {"field": "yl"}}}, {"mark": {"type": "rule", "clip": true}, "encoding": {"y2": {"field": "yh"}}},
   {"mark": {"type": "point", "clip": true}, "encoding": {"color": {"datum": "ρ: 0.87 ± 0.03", "scale": {"range": ["#800080"]}, "legend": {"orient": "bottom-left", "title": null}}}}]},
 {"width": 79, "height": 68, "title": {"text": "DVBLL", "offset": 1}, "transform": [{"filter": "datum.p == 'DVBLL_V'"}],
  "encoding": {"x": {"field": "x", "type": "quantitative", "scale": {"type": "log", "domain": [2.2e-8, 0.0158], "nice": false}, "axis": {"values": [1e-6, 1e-4], "title": null}},
   "y": {"field": "y", "type": "quantitative", "scale": {"type": "log", "domain": [1e-5, 2], "nice": false}, "axis": {"values": [0.1, 0.001], "title": null}}},
  "layer": [{"mark": {"type": "rule", "clip": true}, "encoding": {"x2": {"field": "xl"}}}, {"mark": {"type": "rule", "clip": true}, "encoding": {"x2": {"field": "xh"}}}, {"mark": {"type": "rule", "clip": true}, "encoding": {"y2": {"field": "yl"}}}, {"mark": {"type": "rule", "clip": true}, "encoding": {"y2": {"field": "yh"}}},
   {"mark": {"type": "point", "clip": true}, "encoding": {"color": {"datum": "ρ: 0.94 ± 0.02", "scale": {"range": ["#800080"]}, "legend": {"orient": "top-left", "title": null}}}}]},
 {"width": 79, "height": 68, "title": {"text": "EDL", "offset": 1}, "transform": [{"filter": "datum.p == 'EDL_V'"}],
  "encoding": {"x": {"field": "x", "type": "quantitative", "scale": {"type": "log", "domain": [4.5e-3, 1.58], "nice": false}, "axis": {"values": [0.01, 0.1], "title": null}},
   "y": {"field": "y", "type": "quantitative", "scale": {"type": "log", "domain": [1.32e-3, 0.76], "nice": false}, "axis": {"values": [0.1, 0.01], "title": null}}},
  "layer": [{"mark": {"type": "rule", "clip": true}, "encoding": {"x2": {"field": "xl"}}}, {"mark": {"type": "rule", "clip": true}, "encoding": {"x2": {"field": "xh"}}}, {"mark": {"type": "rule", "clip": true}, "encoding": {"y2": {"field": "yl"}}}, {"mark": {"type": "rule", "clip": true}, "encoding": {"y2": {"field": "yh"}}},
   {"mark": {"type": "point", "clip": true}, "encoding": {"color": {"datum": "ρ: 0.89 ± 0.11", "scale": {"range": ["#800080"]}, "legend": {"orient": "bottom-left", "title": null}}}}]},
 {"width": 79, "height": 68, "title": {"text": "SGLD", "offset": -4}, "transform": [{"filter": "datum.p == 'SGLD_V'"}],
  "encoding": {"x": {"field": "x", "type": "quantitative", "scale": {"type": "log", "domain": [2.57e-4, 0.2], "nice": false}, "axis": {"values": [0.001, 0.01, 0.1], "title": null}},
   "y": {"field": "y", "type": "quantitative", "scale": {"type": "log", "domain": [4e-6, 1.05], "nice": false}, "axis": {"values": [1, 0.01, 1e-4], "title": null}}},
  "layer": [{"mark": {"type": "rule", "clip": true}, "encoding": {"x2": {"field": "xl"}}}, {"mark": {"type": "rule", "clip": true}, "encoding": {"x2": {"field": "xh"}}}, {"mark": {"type": "rule", "clip": true}, "encoding": {"y2": {"field": "yl"}}}, {"mark": {"type": "rule", "clip": true}, "encoding": {"y2": {"field": "yh"}}},
   {"mark": {"type": "point", "clip": true}, "encoding": {"color": {"datum": "ρ: 0.92 ± 0.02", "scale": {"range": ["#800080"]}, "legend": {"orient": "bottom-left", "title": null}}}}]},
 {"width": 79, "height": 68, "title": {"text": "SWAG", "offset": -4}, "transform": [{"filter": "datum.p == 'SWAG_V'"}],
  "encoding": {"x": {"field": "x", "type": "quantitative", "scale": {"type": "log", "domain": [9.5e-4, 0.55], "nice": false}, "axis": {"values": [0.001, 0.01, 0.1], "title": null}},
   "y": {"field": "y", "type": "quantitative", "scale": {"type": "log", "domain": [3.2e-4, 1.05], "nice": false}, "axis": {"values": [1, 0.1, 0.01, 0.001], "title": null}}},
  "layer": [{"mark": {"type": "rule", "clip": true}, "encoding": {"x2": {"field": "xl"}}}, {"mark": {"type": "rule", "clip": true}, "encoding": {"x2": {"field": "xh"}}}, {"mark": {"type": "rule", "clip": true}, "encoding": {"y2": {"field": "yl"}}}, {"mark": {"type": "rule", "clip": true}, "encoding": {"y2": {"field": "yh"}}},
   {"mark": {"type": "point", "clip": true}, "encoding": {"color": {"datum": "ρ: 0.78 ± 0.04", "scale": {"range": ["#800080"]}, "legend": {"orient": "bottom-left", "title": null}}}}]},
 {"width": 79, "height": 68, "title": {"text": "MCD", "offset": -1}, "transform": [{"filter": "datum.p == 'MCD_V'"}],
  "encoding": {"x": {"field": "x", "type": "quantitative", "scale": {"type": "log", "domain": [2e-6, 0.0178], "nice": false}, "axis": {"values": [1e-4, 0.01], "title": null}},
   "y": {"field": "y", "type": "quantitative", "scale": {"type": "log", "domain": [1.26e-6, 1.86], "nice": false}, "axis": {"values": [1, 0.01, 1e-4], "title": null}}},
  "layer": [{"mark": {"type": "rule", "clip": true}, "encoding": {"x2": {"field": "xl"}}}, {"mark": {"type": "rule", "clip": true}, "encoding": {"x2": {"field": "xh"}}}, {"mark": {"type": "rule", "clip": true}, "encoding": {"y2": {"field": "yl"}}}, {"mark": {"type": "rule", "clip": true}, "encoding": {"y2": {"field": "yh"}}},
   {"mark": {"type": "point", "clip": true}, "encoding": {"color": {"datum": "ρ: 0.88 ± 0.07", "scale": {"range": ["#800080"]}, "legend": {"orient": "bottom-left", "title": null}}}}]}
]},
{"spacing": 32, "bounds": "flush", "align": "none", "resolve": {"scale": {"color": "independent"}, "legend": {"color": "independent"}}, "hconcat": [
 {"width": 79, "height": 68, "transform": [{"filter": "datum.p == 'DKL_B'"}],
  "encoding": {"x": {"field": "x", "type": "quantitative", "scale": {"type": "log", "domain": [9.3e-5, 0.043], "nice": false}, "axis": {"values": [0.001, 0.01], "title": null}},
   "y": {"field": "y", "type": "quantitative", "scale": {"type": "log", "domain": [4e-3, 1.41], "nice": false}, "axis": {"values": [1, 0.1, 0.01], "title": ["Bacteria", "(y − p̂)²"], "titleX": -20, "titleY": 34, "titleAngle": -90, "titleAlign": "center", "titleBaseline": "alphabetic", "titleLineHeight": 13}}},
  "layer": [{"mark": {"type": "rule", "clip": true}, "encoding": {"x2": {"field": "xl"}}}, {"mark": {"type": "rule", "clip": true}, "encoding": {"x2": {"field": "xh"}}}, {"mark": {"type": "rule", "clip": true}, "encoding": {"y2": {"field": "yl"}}}, {"mark": {"type": "rule", "clip": true}, "encoding": {"y2": {"field": "yh"}}},
   {"mark": {"type": "point", "clip": true}, "encoding": {"color": {"datum": "ρ: 0.65 ± 0.14", "scale": {"range": ["#800080"]}, "legend": {"orient": "bottom-left", "title": null}}}}]},
 {"width": 79, "height": 68, "transform": [{"filter": "datum.p == 'LA_B'"}],
  "encoding": {"x": {"field": "x", "type": "quantitative", "scale": {"type": "log", "domain": [9.5e-7, 2.7e-3], "nice": false}, "axis": {"values": [1e-5, 1e-4, 1e-3], "title": null}},
   "y": {"field": "y", "type": "quantitative", "scale": {"type": "log", "domain": [2.5e-5, 1.8], "nice": false}, "axis": {"values": [0.1, 0.001], "title": null}}},
  "layer": [{"mark": {"type": "rule", "clip": true}, "encoding": {"x2": {"field": "xl"}}}, {"mark": {"type": "rule", "clip": true}, "encoding": {"x2": {"field": "xh"}}}, {"mark": {"type": "rule", "clip": true}, "encoding": {"y2": {"field": "yl"}}}, {"mark": {"type": "rule", "clip": true}, "encoding": {"y2": {"field": "yh"}}},
   {"mark": {"type": "point", "clip": true}, "encoding": {"color": {"datum": "ρ: 0.71 ± 0.08", "scale": {"range": ["#800080"]}, "legend": {"orient": "bottom-left", "title": null}}}}]},
 {"width": 79, "height": 68, "transform": [{"filter": "datum.p == 'DVBLL_B'"}],
  "encoding": {"x": {"field": "x", "type": "quantitative", "scale": {"type": "log", "domain": [3.4e-6, 0.0132], "nice": false}, "axis": {"values": [1e-4, 0.01], "title": null}},
   "y": {"field": "y", "type": "quantitative", "scale": {"type": "log", "domain": [4.7e-4, 1.29], "nice": false}, "axis": {"values": [1, 0.1, 0.01, 0.001], "title": null}}},
  "layer": [{"mark": {"type": "rule", "clip": true}, "encoding": {"x2": {"field": "xl"}}}, {"mark": {"type": "rule", "clip": true}, "encoding": {"x2": {"field": "xh"}}}, {"mark": {"type": "rule", "clip": true}, "encoding": {"y2": {"field": "yl"}}}, {"mark": {"type": "rule", "clip": true}, "encoding": {"y2": {"field": "yh"}}},
   {"mark": {"type": "point", "clip": true}, "encoding": {"color": {"datum": "ρ: 0.80 ± 0.01", "scale": {"range": ["#800080"]}, "legend": {"orient": "bottom-left", "title": null}}}}]},
 {"width": 79, "height": 68, "transform": [{"filter": "datum.p == 'EDL_B'"}],
  "encoding": {"x": {"field": "x", "type": "quantitative", "scale": {"type": "log", "domain": [2.1e-4, 1.9], "nice": false}, "axis": {"values": [0.001, 0.01, 0.1], "title": null}},
   "y": {"field": "y", "type": "quantitative", "scale": {"type": "log", "domain": [2e-5, 2.4], "nice": false}, "axis": {"values": [0.1, 0.001], "title": null}}},
  "layer": [{"mark": {"type": "rule", "clip": true}, "encoding": {"x2": {"field": "xl"}}}, {"mark": {"type": "rule", "clip": true}, "encoding": {"x2": {"field": "xh"}}}, {"mark": {"type": "rule", "clip": true}, "encoding": {"y2": {"field": "yl"}}}, {"mark": {"type": "rule", "clip": true}, "encoding": {"y2": {"field": "yh"}}},
   {"mark": {"type": "point", "clip": true}, "encoding": {"color": {"datum": "ρ: 0.82 ± 0.01", "scale": {"range": ["#800080"]}, "legend": {"orient": "bottom-left", "title": null}}}}]},
 {"width": 79, "height": 68, "transform": [{"filter": "datum.p == 'SGLD_B'"}],
  "encoding": {"x": {"field": "x", "type": "quantitative", "scale": {"type": "log", "domain": [4e-9, 0.2], "nice": false}, "axis": {"values": [1e-6, 1e-3], "title": null}},
   "y": {"field": "y", "type": "quantitative", "scale": {"type": "log", "domain": [5e-10, 2.45], "nice": false}, "axis": {"values": [0.1, 1e-4, 1e-7], "title": null}}},
  "layer": [{"mark": {"type": "rule", "clip": true}, "encoding": {"x2": {"field": "xl"}}}, {"mark": {"type": "rule", "clip": true}, "encoding": {"x2": {"field": "xh"}}}, {"mark": {"type": "rule", "clip": true}, "encoding": {"y2": {"field": "yl"}}}, {"mark": {"type": "rule", "clip": true}, "encoding": {"y2": {"field": "yh"}}},
   {"mark": {"type": "point", "clip": true}, "encoding": {"color": {"datum": "ρ: 0.79 ± 0.02", "scale": {"range": ["#800080"]}, "legend": {"orient": "bottom-right", "title": null}}}}]},
 {"width": 79, "height": 68, "transform": [{"filter": "datum.p == 'SWAG_B'"}],
  "encoding": {"x": {"field": "x", "type": "quantitative", "scale": {"type": "log", "domain": [1.26e-3, 0.31], "nice": false}, "axis": {"values": [0.01, 0.1], "title": null}},
   "y": {"field": "y", "type": "quantitative", "scale": {"type": "log", "domain": [2.1e-3, 1.74], "nice": false}, "axis": {"values": [1, 0.1, 0.01], "title": null}}},
  "layer": [{"mark": {"type": "rule", "clip": true}, "encoding": {"x2": {"field": "xl"}}}, {"mark": {"type": "rule", "clip": true}, "encoding": {"x2": {"field": "xh"}}}, {"mark": {"type": "rule", "clip": true}, "encoding": {"y2": {"field": "yl"}}}, {"mark": {"type": "rule", "clip": true}, "encoding": {"y2": {"field": "yh"}}},
   {"mark": {"type": "point", "clip": true}, "encoding": {"color": {"datum": "ρ: 0.74 ± 0.11", "scale": {"range": ["#800080"]}, "legend": {"orient": "bottom-left", "title": null}}}}]},
 {"width": 79, "height": 68, "transform": [{"filter": "datum.p == 'MCD_B'"}],
  "encoding": {"x": {"field": "x", "type": "quantitative", "scale": {"type": "log", "domain": [1.86e-6, 0.025], "nice": false}, "axis": {"values": [1e-5, 1e-4, 1e-3], "title": null}},
   "y": {"field": "y", "type": "quantitative", "scale": {"type": "log", "domain": [4.5e-4, 1.82], "nice": false}, "axis": {"values": [1, 0.1, 0.01, 0.001], "title": null}}},
  "layer": [{"mark": {"type": "rule", "clip": true}, "encoding": {"x2": {"field": "xl"}}}, {"mark": {"type": "rule", "clip": true}, "encoding": {"x2": {"field": "xh"}}}, {"mark": {"type": "rule", "clip": true}, "encoding": {"y2": {"field": "yl"}}}, {"mark": {"type": "rule", "clip": true}, "encoding": {"y2": {"field": "yh"}}},
   {"mark": {"type": "point", "clip": true}, "encoding": {"color": {"datum": "ρ: 0.57 ± 0.29", "scale": {"range": ["#800080"]}, "legend": {"orient": "bottom-left", "title": null}}}}]}
]},
{"spacing": 32, "bounds": "flush", "align": "none", "resolve": {"scale": {"color": "independent"}, "legend": {"color": "independent"}}, "hconcat": [
 {"width": 79, "height": 68, "transform": [{"filter": "datum.p == 'DKL_T'"}],
  "encoding": {"x": {"field": "x", "type": "quantitative", "scale": {"type": "log", "domain": [1.38e-5, 0.093], "nice": false}, "axis": {"values": [1e-4, 1e-3, 0.01], "title": null}},
   "y": {"field": "y", "type": "quantitative", "scale": {"type": "log", "domain": [1.48e-3, 1.17], "nice": false}, "axis": {"values": [1, 0.1, 0.01], "title": "Tumor", "titleX": -33, "titleY": 34, "titleAngle": -90, "titleAlign": "center", "titleBaseline": "alphabetic"}}},
  "layer": [{"mark": {"type": "rule", "clip": true}, "encoding": {"x2": {"field": "xl"}}}, {"mark": {"type": "rule", "clip": true}, "encoding": {"x2": {"field": "xh"}}}, {"mark": {"type": "rule", "clip": true}, "encoding": {"y2": {"field": "yl"}}}, {"mark": {"type": "rule", "clip": true}, "encoding": {"y2": {"field": "yh"}}},
   {"mark": {"type": "point", "clip": true}, "encoding": {"color": {"datum": "ρ: 0.63 ± 0.07", "scale": {"range": ["#800080"]}, "legend": {"orient": "bottom-left", "title": null}}}}]},
 {"width": 79, "height": 68, "transform": [{"filter": "datum.p == 'LA_T'"}],
  "encoding": {"x": {"field": "x", "type": "quantitative", "scale": {"type": "log", "domain": [5.9e-7, 8.7e-3], "nice": false}, "axis": {"values": [1e-5, 1e-3], "title": null}},
   "y": {"field": "y", "type": "quantitative", "scale": {"type": "log", "domain": [5e-6, 1.5], "nice": false}, "axis": {"values": [1, 0.01, 1e-4], "title": null}}},
  "layer": [{"mark": {"type": "rule", "clip": true}, "encoding": {"x2": {"field": "xl"}}}, {"mark": {"type": "rule", "clip": true}, "encoding": {"x2": {"field": "xh"}}}, {"mark": {"type": "rule", "clip": true}, "encoding": {"y2": {"field": "yl"}}}, {"mark": {"type": "rule", "clip": true}, "encoding": {"y2": {"field": "yh"}}},
   {"mark": {"type": "point", "clip": true}, "encoding": {"color": {"datum": "ρ: 0.62 ± 0.09", "scale": {"range": ["#800080"]}, "legend": {"orient": "bottom-left", "title": null}}}}]},
 {"width": 79, "height": 68, "transform": [{"filter": "datum.p == 'DVBLL_T'"}],
  "encoding": {"x": {"field": "x", "type": "quantitative", "scale": {"type": "log", "domain": [2e-7, 0.032], "nice": false}, "axis": {"values": [1e-4, 0.01], "title": null}},
   "y": {"field": "y", "type": "quantitative", "scale": {"type": "log", "domain": [6.3e-6, 1.35], "nice": false}, "axis": {"values": [1, 0.01, 1e-4], "title": null}}},
  "layer": [{"mark": {"type": "rule", "clip": true}, "encoding": {"x2": {"field": "xl"}}}, {"mark": {"type": "rule", "clip": true}, "encoding": {"x2": {"field": "xh"}}}, {"mark": {"type": "rule", "clip": true}, "encoding": {"y2": {"field": "yl"}}}, {"mark": {"type": "rule", "clip": true}, "encoding": {"y2": {"field": "yh"}}},
   {"mark": {"type": "point", "clip": true}, "encoding": {"color": {"datum": "ρ: 0.74 ± 0.03", "scale": {"range": ["#800080"]}, "legend": {"orient": "bottom-left", "title": null}}}}]},
 {"width": 79, "height": 68, "transform": [{"filter": "datum.p == 'EDL_T'"}],
  "encoding": {"x": {"field": "x", "type": "quantitative", "scale": {"type": "log", "domain": [0.074, 0.79], "nice": false}, "axis": {"values": [0.1], "title": "Predicted Uncertainty", "titleFontSize": 10, "titleY": 12, "titleBaseline": "top"}},
   "y": {"field": "y", "type": "quantitative", "scale": {"type": "log", "domain": [0.025, 0.4], "nice": false}, "axis": {"values": [0.1], "title": null}}},
  "layer": [{"mark": {"type": "rule", "clip": true}, "encoding": {"x2": {"field": "xl"}}}, {"mark": {"type": "rule", "clip": true}, "encoding": {"x2": {"field": "xh"}}}, {"mark": {"type": "rule", "clip": true}, "encoding": {"y2": {"field": "yl"}}}, {"mark": {"type": "rule", "clip": true}, "encoding": {"y2": {"field": "yh"}}},
   {"mark": {"type": "point", "clip": true}, "encoding": {"color": {"datum": "ρ: 0.64 ± 0.02", "scale": {"range": ["#800080"]}, "legend": {"orient": "bottom-left", "title": null}}}}]},
 {"width": 79, "height": 68, "transform": [{"filter": "datum.p == 'SGLD_T'"}],
  "encoding": {"x": {"field": "x", "type": "quantitative", "scale": {"type": "log", "domain": [3.6e-8, 0.087], "nice": false}, "axis": {"values": [1e-6, 1e-4, 0.01], "title": null}},
   "y": {"field": "y", "type": "quantitative", "scale": {"type": "log", "domain": [1.1e-8, 1.86], "nice": false}, "axis": {"values": [1, 0.01, 1e-4, 1e-6], "title": null}}},
  "layer": [{"mark": {"type": "rule", "clip": true}, "encoding": {"x2": {"field": "xl"}}}, {"mark": {"type": "rule", "clip": true}, "encoding": {"x2": {"field": "xh"}}}, {"mark": {"type": "rule", "clip": true}, "encoding": {"y2": {"field": "yl"}}}, {"mark": {"type": "rule", "clip": true}, "encoding": {"y2": {"field": "yh"}}},
   {"mark": {"type": "point", "clip": true}, "encoding": {"color": {"datum": "ρ: 0.55 ± 0.05", "scale": {"range": ["#800080"]}, "legend": {"orient": "bottom-right", "title": null}}}}]},
 {"width": 79, "height": 68, "transform": [{"filter": "datum.p == 'SWAG_T'"}],
  "encoding": {"x": {"field": "x", "type": "quantitative", "scale": {"type": "log", "domain": [6.6e-3, 0.275], "nice": false}, "axis": {"values": [0.01, 0.1], "title": null}},
   "y": {"field": "y", "type": "quantitative", "scale": {"type": "log", "domain": [7.9e-4, 1.26], "nice": false}, "axis": {"values": [1, 0.1, 0.01, 0.001], "title": null}}},
  "layer": [{"mark": {"type": "rule", "clip": true}, "encoding": {"x2": {"field": "xl"}}}, {"mark": {"type": "rule", "clip": true}, "encoding": {"x2": {"field": "xh"}}}, {"mark": {"type": "rule", "clip": true}, "encoding": {"y2": {"field": "yl"}}}, {"mark": {"type": "rule", "clip": true}, "encoding": {"y2": {"field": "yh"}}},
   {"mark": {"type": "point", "clip": true}, "encoding": {"color": {"datum": "ρ: 0.47 ± 0.16", "scale": {"range": ["#800080"]}, "legend": {"orient": "bottom-left", "title": null}}}}]},
 {"width": 79, "height": 68, "transform": [{"filter": "datum.p == 'MCD_T'"}],
  "encoding": {"x": {"field": "x", "type": "quantitative", "scale": {"type": "log", "domain": [5e-6, 9.3e-3], "nice": false}, "axis": {"values": [1e-5, 1e-4, 1e-3], "title": null}},
   "y": {"field": "y", "type": "quantitative", "scale": {"type": "log", "domain": [3.3e-6, 1.55], "nice": false}, "axis": {"values": [1, 0.01, 1e-4], "title": null}}},
  "layer": [{"mark": {"type": "rule", "clip": true}, "encoding": {"x2": {"field": "xl"}}}, {"mark": {"type": "rule", "clip": true}, "encoding": {"x2": {"field": "xh"}}}, {"mark": {"type": "rule", "clip": true}, "encoding": {"y2": {"field": "yl"}}}, {"mark": {"type": "rule", "clip": true}, "encoding": {"y2": {"field": "yh"}}},
   {"mark": {"type": "point", "clip": true}, "encoding": {"color": {"datum": "ρ: 0.28 ± 0.38", "scale": {"range": ["#800080"]}, "legend": {"orient": "bottom-left", "title": null}}}}]}
]}
]
}
